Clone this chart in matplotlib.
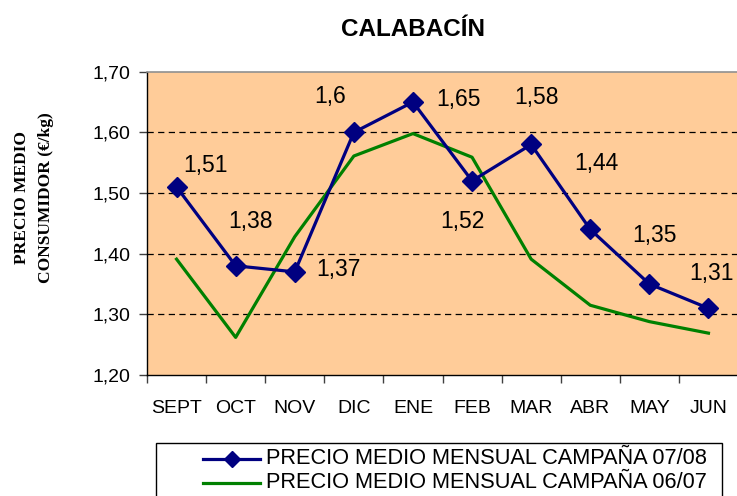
import matplotlib
matplotlib.use("Agg")
import matplotlib.pyplot as plt
from matplotlib.lines import Line2D
from matplotlib.patches import Rectangle
import numpy as np

plt.rcParams['font.family'] = ['Liberation Sans', 'DejaVu Sans']

months = ["SEPT", "OCT", "NOV", "DIC", "ENE", "FEB", "MAR", "ABR", "MAY", "JUN"]
precio_0708 = [1.51, 1.38, 1.37, 1.60, 1.65, 1.52, 1.58, 1.44, 1.35, 1.31]
precio_0607 = [1.391, 1.262, 1.428, 1.561, 1.598, 1.559, 1.391, 1.315, 1.288, 1.269]
labels_0708 = ["1,51", "1,38", "1,37", "1,6", "1,65", "1,52", "1,58", "1,44", "1,35", "1,31"]
yticks = [1.20, 1.30, 1.40, 1.50, 1.60, 1.70]
ytick_labels = ["1,20", "1,30", "1,40", "1,50", "1,60", "1,70"]
legend_labels = ["PRECIO MEDIO MENSUAL CAMPAÑA 07/08", "PRECIO MEDIO MENSUAL CAMPAÑA 06/07"]
title = "CALABACÍN"
ylabel = "PRECIO MEDIO\nCONSUMIDOR (€/kg)"

# label offsets in pixels (dx, dy), y up
label_offsets = [(29, 21), (15, 44), (44, 2), (-24, 36), (46, 3),
                 (-10, -41), (5, 47), (6, 66), (5, 49), (3, 35)]

W, H = 737, 496
fig = plt.figure(figsize=(W / 100, H / 100), dpi=100)
fig.patch.set_facecolor("white")

ax = fig.add_axes([147 / W, 1 - 375 / H, 591 / W, (375 - 71.7) / H])
ax.set_facecolor("#FFCC99")

x = np.arange(len(months))
ax.set_xlim(-0.5, len(months) - 0.5)
ax.set_ylim(1.20, 1.70)

for yv in yticks[1:-1]:
    ax.axhline(yv, color="black", linewidth=0.9, linestyle=(0, (5, 3.5)), zorder=1)

ax.plot(x, precio_0607, color="#008000", linewidth=2.3, zorder=3)
ax.plot(x, precio_0708, color="#000080", linewidth=2.3, marker="D", markersize=10,
        markerfacecolor="#000080", markeredgecolor="#000080", zorder=4)

for xi, yi, lab, (dx, dy) in zip(x, precio_0708, labels_0708, label_offsets):
    ax.annotate(lab, (xi, yi), xytext=(dx, dy), textcoords="offset pixels",
                ha="center", va="center", fontsize=16.5, color="black", zorder=5,
                annotation_clip=False)

ax.set_yticks(yticks)
ax.set_yticklabels(ytick_labels, fontsize=14)
ax.set_xticks(x)
ax.set_xticklabels(months, fontsize=14)
ax.set_xticks(np.arange(-0.5, len(months), 1.0), minor=True)
ax.tick_params(axis="x", which="major", length=0, pad=18)
ax.tick_params(axis="x", which="minor", length=6, width=1, color="#404040", direction="out")
ax.tick_params(axis="y", which="major", length=6, width=1, color="#404040", direction="out", pad=6)

for s in ["left", "bottom"]:
    ax.spines[s].set_color("black")
    ax.spines[s].set_linewidth(1.0)
ax.spines["top"].set_color("#909090")
ax.spines["top"].set_linewidth(1.2)
ax.spines["right"].set_visible(False)

fig.text(413 / W, 1 - 30 / H, title, ha="center", va="center", fontsize=17.5, fontweight="bold")
fig.text(34 / W, 1 - 198 / H, ylabel, ha="center", va="center", rotation=90,
         fontsize=12.5, fontweight="bold", family=["Liberation Serif", "DejaVu Serif"],
         linespacing=1.7, multialignment="center")

# legend (manual)
fig.add_artist(Rectangle((155.7 / W, -0.05), (722 - 155.7) / W, (1 - 442.7 / H) + 0.05,
                         transform=fig.transFigure, facecolor="white", edgecolor="black",
                         linewidth=1.0))
rows_y = [1 - 459 / H, 1 - 483 / H]
fig.add_artist(Line2D([203 / W, 260 / W], [rows_y[0]] * 2, transform=fig.transFigure,
                      color="#000080", linewidth=2.3))
fig.add_artist(Line2D([231.5 / W], [rows_y[0]], transform=fig.transFigure,
                      color="#000080", marker="D", markersize=8, linestyle="none"))
fig.add_artist(Line2D([203 / W, 260 / W], [rows_y[1]] * 2, transform=fig.transFigure,
                      color="#008000", linewidth=2.3))
for ry, lab in zip(rows_y, legend_labels):
    fig.text(266 / W, ry, lab, ha="left", va="center", fontsize=15.7)

fig.savefig("out.png", dpi=100)
